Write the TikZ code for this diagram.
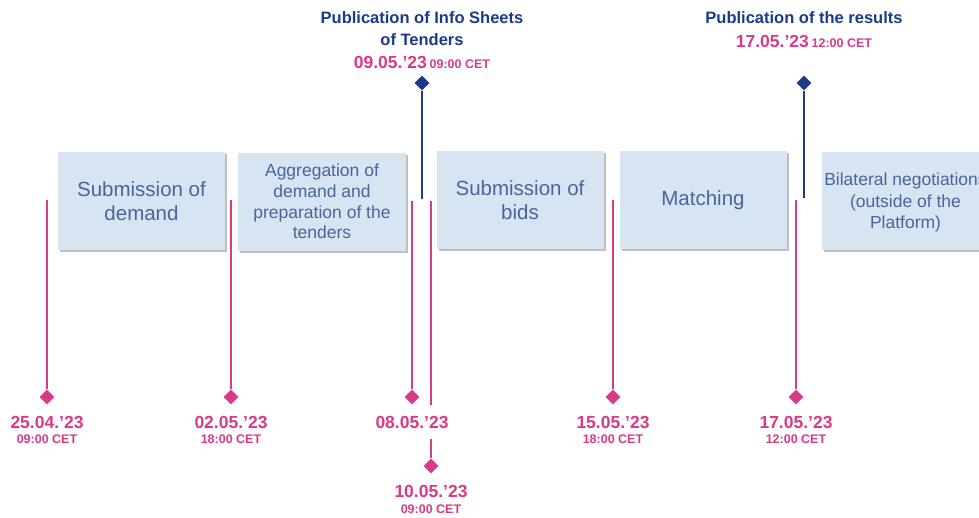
\documentclass[tikz,border=0pt]{standalone}
\usepackage{fontspec}
\setmainfont{Liberation Sans}
\usetikzlibrary{shapes.geometric,shadows}

\definecolor{boxblue}{HTML}{D7E4F2}
\definecolor{boxtext}{HTML}{4A659C}
\definecolor{pink}{HTML}{D93A88}
\definecolor{navy}{HTML}{1B3A8C}

\begin{document}
\begin{tikzpicture}[x=1pt,y=-1pt]
            \tikzstyle{phase}=[fill=boxblue, text=boxtext, align=center, inner sep=0pt,
                minimum width=167pt, minimum height=98pt,
                drop shadow={shadow xshift=2pt, shadow yshift=-2pt, fill=black, opacity=0.25}]
            \tikzstyle{pinkdot}=[diamond, fill=pink, inner sep=0pt, minimum width=15pt, minimum height=15pt]
            \tikzstyle{navydot}=[diamond, fill=navy, inner sep=0pt, minimum width=15pt, minimum height=15pt]
            \tikzstyle{pinkline}=[pink, line width=2pt]
            \tikzstyle{navyline}=[navy, line width=2pt]
            \tikzstyle{datelbl}=[text=pink, inner sep=0pt, font=\fontsize{17.5}{20}\selectfont\bfseries]
            \tikzstyle{timelbl}=[text=pink, inner sep=0pt, font=\fontsize{12.5}{15}\selectfont\bfseries]
            \tikzstyle{publbl}=[text=navy, inner sep=0pt, align=center, font=\fontsize{16.5}{22}\selectfont\bfseries]
            \useasboundingbox (0,0) rectangle (979,517);
            \clip (0,0) rectangle (979,517);
            % phases
            \node [phase, font=\fontsize{20.5}{24}\selectfont] (demand) at (141.5,201) {Submission of\\demand};
            \node [phase, font=\fontsize{17.5}{20.7}\selectfont, minimum width=168pt] (aggr) at (322,201.5) {Aggregation of\\demand and\\preparation of the\\tenders};
            \node [phase, font=\fontsize{20.5}{24}\selectfont] (bids) at (520,200) {Submission of\\bids};
            \node [phase, font=\fontsize{20.5}{24}\selectfont] (match) at (703,200) {Matching};
            \node [phase, font=\fontsize{17.5}{21.5}\selectfont, text depth=-6pt] (bilat) at (905.5,201) {Bilateral negotiations\\(outside of the\\Platform)};
            % deadlines
            \coordinate (t1) at (47,200);
            \node [pinkdot] (d1) at (47,397) {};
            \draw [pinkline] (t1) -- (d1);
            \node [datelbl] (l1) at (47,422) {25.04.’23};
            \node [timelbl] (h1) at (47,439) {09:00 CET};
            \coordinate (t2) at (231,200);
            \node [pinkdot] (d2) at (231,397) {};
            \draw [pinkline] (t2) -- (d2);
            \node [datelbl] (l2) at (231,422) {02.05.’23};
            \node [timelbl] (h2) at (231,439) {18:00 CET};
            \coordinate (t3) at (412,201);
            \node [pinkdot] (d3) at (412,397) {};
            \draw [pinkline] (t3) -- (d3);
            \node [datelbl] (l3) at (412,422) {08.05.’23};
            \coordinate (t4) at (431,201);
            \coordinate (g1) at (431,405);
            \coordinate (g2) at (431,439);
            \node [pinkdot] (d4) at (431,466) {};
            \draw [pinkline] (t4) -- (g1);
            \draw [pinkline] (g2) -- (d4);
            \node [datelbl] (l4) at (431,491) {10.05.’23};
            \node [timelbl] (h4) at (431,509) {09:00 CET};
            \coordinate (t5) at (613,200);
            \node [pinkdot] (d5) at (613,397) {};
            \draw [pinkline] (t5) -- (d5);
            \node [datelbl] (l5) at (613,422) {15.05.’23};
            \node [timelbl] (h5) at (613,439) {18:00 CET};
            \coordinate (t6) at (796,200);
            \node [pinkdot] (d6) at (796,397) {};
            \draw [pinkline] (t6) -- (d6);
            \node [datelbl] (l6) at (796,422) {17.05.’23};
            \node [timelbl] (h6) at (796,439) {12:00 CET};
            % publications
            \node [navydot] (p1) at (422,83) {};
            \coordinate (b1) at (422,199);
            \draw [navyline] (p1) -- (b1);
            \node [publbl] (pub1) at (422,29) {Publication of Info Sheets\\of Tenders};
            \node [text=pink, inner sep=0pt] (pd1) at (422,62) {{\fontsize{17.5}{20}\selectfont\bfseries 09.05.’23} {\fontsize{12.5}{15}\selectfont\bfseries 09:00 CET}};
            \node [navydot] (p2) at (804,83) {};
            \coordinate (b2) at (804,198);
            \draw [navyline] (p2) -- (b2);
            \node [publbl] (pub2) at (804,18) {Publication of the results};
            \node [text=pink, inner sep=0pt] (pd2) at (804,41) {{\fontsize{17.5}{20}\selectfont\bfseries 17.05.’23} {\fontsize{12.5}{15}\selectfont\bfseries 12:00 CET}};
        \end{tikzpicture}
\end{document}
